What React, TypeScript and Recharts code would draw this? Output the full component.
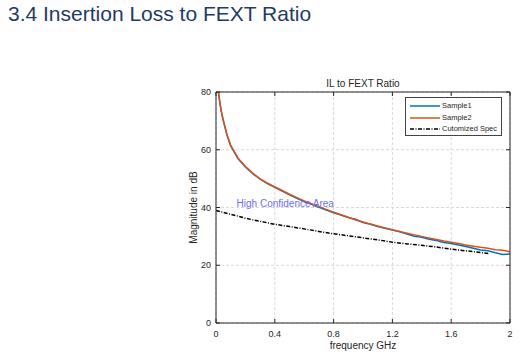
import React from 'react';
import { LineChart, Line, XAxis, YAxis, CartesianGrid, ReferenceDot } from 'recharts';

const freqs = [0.005, 0.01, 0.02, 0.03, 0.04, 0.05, 0.075, 0.1, 0.15, 0.2, 0.25, 0.3, 0.35, 0.4, 0.45, 0.5, 0.55, 0.6, 0.65, 0.7, 0.75, 0.8, 0.85, 0.9, 0.95, 1.0, 1.05, 1.1, 1.15, 1.2, 1.25, 1.3, 1.35, 1.4, 1.45, 1.5, 1.55, 1.6, 1.65, 1.7, 1.75, 1.8, 1.85, 1.9, 1.95, 2.0];
const sample1 = [86, 83, 78.5, 75.0, 72.2, 70.0, 65.0, 61.3, 56.9, 54.0, 51.7, 49.8, 48.3, 47.0, 45.7, 44.4, 43.2, 42.1, 41.1, 40.1, 39.1, 38.2, 37.4, 36.5, 35.9, 34.8, 34.2, 33.4, 32.8, 32.2, 31.6, 30.8, 30.0, 29.7, 29.0, 28.6, 27.9, 27.5, 27.0, 26.5, 25.9, 25.3, 25.0, 24.3, 23.7, 23.9];
const sample2 = [86.3, 83.3, 78.8, 75.2, 72.4, 70.2, 65.2, 61.5, 57.1, 54.2, 51.9, 49.9, 48.4, 47.1, 45.9, 44.6, 43.4, 42.3, 41.3, 40.3, 39.3, 38.4, 37.5, 36.6, 35.7, 35.0, 34.3, 33.6, 32.9, 32.3, 31.7, 31.1, 30.5, 30.0, 29.4, 28.9, 28.4, 28.0, 27.5, 27.0, 26.6, 26.2, 25.9, 25.4, 25.2, 24.7];

const specFreqs = [0, 0.05, 0.1, 0.15, 0.2, 0.3, 0.4, 0.5, 0.6, 0.7, 0.8, 0.9, 1.0, 1.1, 1.2, 1.3, 1.4, 1.5, 1.6, 1.7, 1.8, 1.86];
const specValues = [39.0, 38.3, 37.6, 37.0, 36.3, 35.2, 34.2, 33.4, 32.6, 31.7, 30.9, 30.2, 29.5, 28.8, 28.0, 27.4, 26.9, 26.3, 25.6, 25.0, 24.4, 24.0];

const xTicks = [0, 0.4, 0.8, 1.2, 1.6, 2];
const yTicks = [0, 20, 40, 60, 80];
const xTickLabels = ['0', '0.4', '0.8', '1.2', '1.6', '2'];

const pageTitle = '3.4 Insertion Loss to FEXT Ratio';
const chartTitle = 'IL to FEXT Ratio';
const xLabel = 'frequency GHz';
const yLabel = 'Magnitude in dB';
const noteText = 'High Confidence Area';
const seriesNames = ['Sample1', 'Sample2', 'Cutomized Spec'];

const s1Data = freqs.map((f, i) => ({ f, v: sample1[i] }));
const s2Data = freqs.map((f, i) => ({ f, v: sample2[i] }));
const specData = specFreqs.map((f, i) => ({ f, v: specValues[i] }));

const FONT = 'Arial, "Liberation Sans", Helvetica, sans-serif';
const AX = '#262626';
const C1 = '#0072BD';
const C2 = '#D95319';
const SPEC_DASH = '4 1.5 1 1.5';

const NoTick = () => <g />;

const LegendBox = () => (
  <div
    style={{
      position: 'absolute',
      left: 405,
      top: 97,
      width: 97,
      height: 39,
      border: '1px solid #444',
      background: '#fff',
      boxSizing: 'border-box',
      fontFamily: FONT,
      fontSize: 7.5,
      color: AX,
      paddingTop: 2,
    }}
  >
    {[
      { name: seriesNames[0], color: C1, dash: undefined },
      { name: seriesNames[1], color: C2, dash: undefined },
      { name: seriesNames[2], color: '#000', dash: SPEC_DASH },
    ].map((e) => (
      <div key={e.name} style={{ display: 'flex', alignItems: 'center', height: 11.7, whiteSpace: 'nowrap' }}>
        <svg width={32} height={6} style={{ marginLeft: 4, flex: 'none' }}>
          <line x1={0} x2={30} y1={3} y2={3} stroke={e.color} strokeWidth={1.5} strokeDasharray={e.dash} />
        </svg>
        <span style={{ lineHeight: '10px' }}>{e.name}</span>
      </div>
    ))}
  </div>
);

export default function App() {
  return (
    <div style={{ position: 'absolute', left: 0, top: 0, width: 529, height: 357, background: '#fff', fontFamily: FONT }}>
      <div style={{ position: 'absolute', left: 8, top: 2, fontSize: 21, lineHeight: '24px', color: '#1F3B63', whiteSpace: 'nowrap' }}>
        {pageTitle}
      </div>
      <div style={{ position: 'absolute', left: 216, width: 294, top: 78, fontSize: 10, lineHeight: '12px', color: AX, textAlign: 'center' }}>
        {chartTitle}
      </div>
      <div style={{ position: 'absolute', left: 0, top: 0 }}>
        <LineChart width={529} height={357} margin={{ top: 91, right: 18, bottom: 9, left: 186 }}>
          <CartesianGrid xAxisId="b" yAxisId="l" stroke="#d9d9d9" strokeDasharray="3 2" />
          <XAxis
            xAxisId="b"
            dataKey="f"
            type="number"
            domain={[0, 2]}
            ticks={xTicks}
            tickFormatter={(v: number) => xTickLabels[xTicks.indexOf(v)] ?? String(v)}
            height={25}
            tickSize={-4}
            tickMargin={12}
            stroke={AX}
            tick={{ fontSize: 9, fill: AX, fontFamily: FONT }}
            allowDataOverflow
            label={{ value: xLabel, position: 'insideBottom', offset: -1, fontSize: 10, fill: AX, fontFamily: FONT }}
          />
          <XAxis
            xAxisId="t"
            orientation="top"
            dataKey="f"
            type="number"
            domain={[0, 2]}
            ticks={xTicks}
            height={1}
            tickSize={-4}
            stroke={AX}
            tick={NoTick}
            allowDataOverflow
          />
          <YAxis
            yAxisId="l"
            type="number"
            domain={[0, 80]}
            ticks={yTicks}
            width={30}
            tickSize={-4}
            tickMargin={9}
            stroke={AX}
            tick={{ fontSize: 9, fill: AX, fontFamily: FONT }}
            allowDataOverflow
            label={{ value: yLabel, angle: -90, position: 'insideLeft', offset: 7, fontSize: 10, fill: AX, fontFamily: FONT, style: { textAnchor: 'middle' } }}
          />
          <YAxis
            yAxisId="r"
            orientation="right"
            type="number"
            domain={[0, 80]}
            ticks={yTicks}
            width={1}
            tickSize={-4}
            stroke={AX}
            tick={NoTick}
            allowDataOverflow
          />
          <Line xAxisId="b" yAxisId="l" data={specData} dataKey="v" name={seriesNames[2]} stroke="#000" strokeWidth={1.5} strokeDasharray={SPEC_DASH} dot={false} isAnimationActive={false} />
          <Line xAxisId="b" yAxisId="l" data={s1Data} dataKey="v" name={seriesNames[0]} stroke={C1} strokeWidth={1.5} dot={false} isAnimationActive={false} />
          <Line xAxisId="b" yAxisId="l" data={s2Data} dataKey="v" name={seriesNames[1]} stroke={C2} strokeWidth={1.5} dot={false} isAnimationActive={false} />
          <ReferenceDot
            xAxisId="b"
            yAxisId="l"
            x={0.14}
            y={41.3}
            r={0}
            fill="none"
            stroke="none"
            label={{ value: noteText, position: 'right', offset: 0, fontSize: 10, fill: '#6E6EF2', fontFamily: FONT }}
          />
        </LineChart>
      </div>
      <LegendBox />
    </div>
  );
}
